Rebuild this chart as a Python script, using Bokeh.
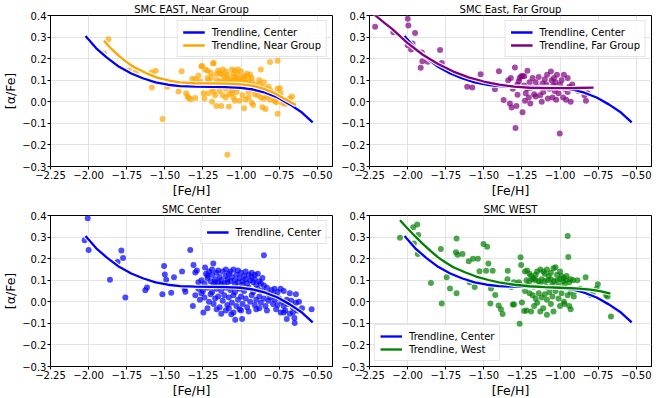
from bokeh.plotting import figure
from bokeh.layouts import gridplot
from bokeh.models import (FixedTicker, CustomJSTickFormatter, Legend, LegendItem,
                          Range1d)
from bokeh.embed import file_html
from bokeh.resources import INLINE

# ---------------- data ----------------
x_ticks = [-2.25, -2.0, -1.75, -1.5, -1.25, -1.0, -0.75, -0.5]
x_tick_labels = ["\u22122.25", "\u22122.00", "\u22121.75", "\u22121.50",
                 "\u22121.25", "\u22121.00", "\u22120.75", "\u22120.50"]
y_ticks = [-0.3, -0.2, -0.1, 0.0, 0.1, 0.2, 0.3, 0.4]
y_tick_labels = ["\u22120.3", "\u22120.2", "\u22120.1", "0.0", "0.1", "0.2", "0.3", "0.4"]

titles = ["SMC EAST, Near Group", "SMC East, Far Group", "SMC Center", "SMC WEST"]

# trendlines
center_trend_x = [-2.02, -1.95, -1.88, -1.80, -1.72, -1.64, -1.56, -1.48, -1.40, -1.30,
                  -1.20, -1.10, -1.00, -0.92, -0.84, -0.76, -0.68, -0.60, -0.53]
center_trend_y = [0.305, 0.248, 0.205, 0.162, 0.131, 0.108, 0.090, 0.079, 0.073, 0.070,
                  0.069, 0.068, 0.065, 0.057, 0.042, 0.020, -0.012, -0.050, -0.095]

near_trend_x = [-1.90, -1.85, -1.80, -1.75, -1.70, -1.62, -1.55, -1.47, -1.40, -1.30,
                -1.20, -1.10, -1.00, -0.92, -0.85, -0.78, -0.72, -0.64]
near_trend_y = [0.283, 0.245, 0.212, 0.184, 0.160, 0.132, 0.112, 0.098, 0.090, 0.086,
                0.085, 0.084, 0.081, 0.074, 0.060, 0.040, 0.016, -0.015]

far_trend_x = [-2.22, -2.15, -2.10, -2.00, -1.90, -1.80, -1.70, -1.60, -1.50, -1.40,
               -1.30, -1.20, -1.10, -1.00, -0.90, -0.78]
far_trend_y = [0.405, 0.365, 0.337, 0.272, 0.218, 0.175, 0.140, 0.113, 0.094, 0.080,
               0.070, 0.065, 0.063, 0.063, 0.064, 0.066]

west_trend_x = [-2.05, -2.00, -1.95, -1.90, -1.85, -1.80, -1.75, -1.70, -1.62, -1.55,
                -1.47, -1.40, -1.30, -1.20, -1.10, -1.00, -0.90, -0.80, -0.73, -0.67]
west_trend_y = [0.378, 0.340, 0.303, 0.268, 0.236, 0.206, 0.182, 0.160, 0.136, 0.117,
                0.101, 0.090, 0.079, 0.072, 0.068, 0.065, 0.062, 0.056, 0.048, 0.038]

near_points = [
    (-1.90, 0.225), (-1.87, 0.290), (-1.735, 0.145), (-1.69, 0.138), (-1.587, 0.136),
    (-1.585, 0.066), (-1.56, 0.144), (-1.515, -0.080), (-1.484, 0.070), (-1.41, 0.048),
    (-1.39, 0.141), (-1.36, 0.040), (-1.35, 0.025), (-1.344, 0.018), (-1.32, 0.107),
    (-1.30, 0.105), (-1.28, 0.121), (-1.257, 0.166), (-1.246, 0.040), (-1.236, 0.151),
    (-1.22, 0.144), (-1.215, 0.040), (-1.194, 0.114), (-1.183, 0.177), (-1.172, 0.070),
    (-1.161, 0.129), (-1.161, -0.019), (-1.09, -0.245),
    (-1.15, 0.145), (-1.14, 0.135), (-1.13, 0.128), (-1.12, 0.150), (-1.11, 0.118),
    (-1.10, 0.140), (-1.09, 0.108), (-1.15, 0.085), (-1.13, 0.075), (-1.10, 0.060),
    (-1.08, 0.090), (-1.06, 0.055), (-1.12, 0.030), (-1.10, 0.020), (-1.08, 0.035),
    (-1.06, 0.040), (-1.13, -0.020), (-1.08, -0.022), (-1.06, 0.150), (-1.05, 0.130),
    (-1.04, 0.145), (-1.02, 0.125), (-1.00, 0.140), (-0.99, 0.110), (-0.98, 0.115),
    (-0.96, 0.130), (-0.94, 0.125), (-1.04, 0.075), (-1.02, 0.065), (-1.00, 0.080),
    (-0.98, 0.070), (-0.96, 0.065), (-0.94, 0.060), (-0.92, 0.068), (-0.90, 0.055),
    (-0.89, 0.052), (-1.05, 0.020), (-1.01, 0.005), (-0.99, 0.030), (-0.97, 0.010),
    (-0.95, 0.020), (-0.93, -0.005), (-0.92, -0.015), (-0.98, -0.030), (-0.87, 0.150),
    (-0.81, 0.185), (-0.76, 0.190), (-0.88, 0.080), (-0.86, 0.065), (-0.84, 0.060),
    (-0.82, 0.070), (-0.81, 0.055), (-0.89, 0.030), (-0.87, 0.020), (-0.85, 0.015),
    (-0.83, 0.025), (-0.81, 0.010), (-0.79, 0.030), (-0.86, -0.025), (-0.84, -0.033),
    (-0.76, -0.055), (-0.745, 0.063), (-0.76, 0.060), (-0.74, 0.040), (-0.72, 0.005),
    (-0.73, -0.005), (-0.71, -0.010), (-0.70, 0.000), (-0.666, 0.025), (-0.68, 0.015),
    (-0.66, -0.010), (-0.78, 0.005), (-0.77, -0.002), (-1.27, 0.095), (-1.25, 0.080),
    (-1.22, 0.110), (-1.21, 0.095), (-1.19, 0.060), (-1.18, 0.045), (-1.18, 0.180),
    (-1.26, 0.165), (-1.30, 0.018), (-1.33, 0.012), (-1.07, 0.100), (-1.05, 0.100),
    (-1.03, 0.095), (-1.01, 0.105), (-0.99, 0.095), (-0.97, 0.090), (-1.09, 0.125),
    (-1.03, 0.110), (-0.95, 0.100), (-0.93, 0.090), (-0.91, 0.080), (-1.16, 0.100),
    (-1.14, 0.095), (-1.12, 0.090), (-1.14, 0.050), (-1.17, 0.030), (-1.03, 0.045),
    (-0.95, 0.045), (-0.91, 0.035), (-1.02, 0.150), (-1.11, 0.100), (-1.05, 0.115),
    (-0.97, 0.120), (-1.20, 0.135), (-1.07, 0.070), (-0.93, 0.110), (-0.88, 0.100),
    (-0.85, 0.090), (-0.80, 0.045), (-1.24, 0.015), (-1.19, 0.000), (-1.04, 0.005),
]

far_points = [
    (-2.213, 0.348), (-2.093, 0.322), (-1.999, 0.385), (-1.995, 0.354), (-1.951, 0.319),
    (-1.999, 0.262), (-1.968, 0.270), (-1.977, 0.242), (-1.907, 0.228), (-1.903, 0.188),
    (-1.914, 0.158), (-1.868, 0.186), (-1.787, 0.240), (-1.776, 0.180), (-1.609, 0.070),
    (-1.576, 0.066), (-1.521, 0.128), (-1.427, 0.058), (-1.401, 0.141), (-1.370, 0.008),
    (-1.329, -0.008), (-1.323, 0.110), (-1.318, -0.026), (-1.296, 0.159), (-1.292, -0.122),
    (-1.286, -0.019), (-1.279, 0.033), (-1.265, 0.110), (-1.255, 0.118), (-1.245, 0.120),
    (-1.235, 0.118), (-1.246, -0.048), (-1.214, 0.144), (-1.235, 0.075), (-1.215, 0.060),
    (-1.225, 0.040), (-1.205, 0.020), (-1.195, -0.008), (-1.18, 0.110), (-1.16, 0.090),
    (-1.15, 0.070), (-1.13, 0.030), (-1.12, 0.000), (-1.10, 0.105), (-1.09, 0.080),
    (-1.085, 0.125), (-1.07, 0.060), (-1.06, 0.140), (-1.055, 0.100), (-1.05, 0.020),
    (-1.045, 0.075), (-1.04, 0.110), (-1.035, 0.050), (-1.03, 0.090), (-1.025, 0.010),
    (-1.02, 0.125), (-1.002, -0.147), (-1.01, 0.040), (-1.00, 0.080), (-0.99, 0.100),
    (-0.98, 0.020), (-0.97, 0.060), (-0.96, 0.010), (-0.95, 0.110), (-0.94, 0.070),
    (-0.93, 0.000), (-0.92, 0.080), (-0.88, 0.050), (-0.84, 0.030), (-0.83, 0.005),
    (-0.82, 0.040), (-1.31, 0.060), (-1.28, 0.080), (-1.20, 0.090), (-1.17, 0.035),
    (-1.14, 0.115), (-1.11, 0.045), (-1.27, 0.095), (-1.23, 0.005), (-1.19, 0.065),
    (-1.08, 0.015), (-1.115, 0.085), (-0.975, 0.125), (-1.34, 0.100), (-1.16, 0.025),
    (-0.95, 0.045),
]

center_points = [
    (-2.026, 0.285), (-2.006, 0.387), (-2.000, 0.240), (-1.860, 0.102), (-1.810, 0.184),
    (-1.785, 0.238), (-1.774, 0.203), (-1.759, 0.020), (-1.628, 0.054), (-1.617, 0.066),
    (-1.516, 0.035), (-1.505, 0.166), (-1.500, 0.126), (-1.491, 0.102), (-1.458, 0.042),
    (-1.440, 0.114), (-1.387, 0.140), (-1.365, 0.047), (-1.370, 0.060), (-1.333, 0.240),
    (-1.316, -0.020), (-1.312, 0.170), (-1.300, 0.136), (-1.290, 0.145), (-1.280, 0.091),
    (-1.247, -0.050), (-1.236, 0.159), (-1.219, 0.121), (-1.182, 0.177), (-1.064, -0.058),
    (-1.038, -0.083), (-0.993, -0.080), (-1.010, -0.035), (-1.000, -0.040), (-0.900, -0.035),
    (-0.850, 0.216), (-0.537, -0.035), (-0.648, -0.098), (-0.650, -0.075), (-0.660, -0.050),
    (-0.630, -0.040), (-0.600, -0.030), (-0.620, 0.000), (-0.640, 0.035), (-0.680, 0.040),
    (-0.700, -0.080), (-0.720, -0.050),
    (-1.26, 0.100), (-1.24, 0.085), (-1.22, 0.110), (-1.21, 0.140), (-1.20, 0.095),
    (-1.19, 0.125), (-1.18, 0.080), (-1.17, 0.105), (-1.16, 0.135), (-1.15, 0.090),
    (-1.14, 0.115), (-1.13, 0.100), (-1.12, 0.140), (-1.11, 0.085), (-1.10, 0.120),
    (-1.09, 0.105), (-1.08, 0.130), (-1.07, 0.095), (-1.06, 0.115), (-1.05, 0.150),
    (-1.04, 0.100), (-1.03, 0.125), (-1.02, 0.090), (-1.01, 0.110), (-1.00, 0.135),
    (-0.99, 0.095), (-0.98, 0.120), (-0.97, 0.105), (-0.96, 0.085), (-0.95, 0.125),
    (-0.94, 0.100), (-0.93, 0.115), (-0.92, 0.090), (-0.91, 0.105), (-0.90, 0.080),
    (-0.89, 0.130), (-0.88, 0.095), (-0.87, 0.085), (-0.86, 0.110), (-0.85, 0.075),
    (-1.15, 0.145), (-1.10, 0.150), (-1.07, 0.140), (-1.02, 0.145), (-0.97, 0.140),
    (-0.93, 0.135), (-1.23, 0.130), (-1.19, 0.150), (-1.09, 0.090), (-1.04, 0.080),
    (-0.99, 0.080), (-1.13, 0.080), (-1.17, 0.090), (-0.91, 0.125),
    (-1.28, 0.060), (-1.25, 0.050), (-1.22, 0.065), (-1.19, 0.045), (-1.16, 0.060),
    (-1.13, 0.050), (-1.10, 0.065), (-1.07, 0.055), (-1.04, 0.045), (-1.01, 0.060),
    (-0.98, 0.050), (-0.95, 0.065), (-0.92, 0.045), (-0.89, 0.060), (-0.86, 0.050),
    (-0.83, 0.065), (-0.80, 0.055), (-0.78, 0.060), (-0.76, 0.045), (-0.74, 0.060),
    (-0.72, 0.050), (-0.82, 0.040), (-0.79, 0.035), (-0.77, 0.025),
    (-1.30, 0.030), (-1.27, 0.010), (-1.24, 0.020), (-1.21, 0.000), (-1.20, 0.035),
    (-1.18, -0.010), (-1.17, 0.015), (-1.15, 0.025), (-1.14, -0.025), (-1.12, 0.005),
    (-1.11, 0.030), (-1.09, -0.015), (-1.08, 0.020), (-1.06, -0.005), (-1.05, 0.030),
    (-1.03, -0.020), (-1.02, 0.010), (-1.00, 0.025), (-0.99, -0.010), (-0.97, 0.015),
    (-0.96, -0.025), (-0.94, 0.000), (-0.93, 0.030), (-0.91, -0.015), (-0.90, 0.010),
    (-0.88, 0.025), (-0.87, -0.005), (-0.85, 0.015), (-0.84, -0.020), (-0.82, 0.005),
    (-0.81, 0.020), (-0.79, -0.010), (-0.78, 0.010), (-0.76, -0.015), (-0.75, 0.015),
    (-0.73, 0.000), (-0.72, -0.020), (-0.70, 0.010), (-0.69, -0.010), (-0.67, 0.005),
    (-0.66, -0.025), (-0.64, -0.005), (-0.71, -0.040), (-0.68, -0.055), (-0.74, -0.050),
    (-0.77, -0.035), (-0.83, -0.040), (-0.88, -0.030), (-0.95, -0.045), (-1.05, -0.050),
    (-1.10, -0.040), (-1.16, -0.035), (-1.22, -0.030), (-1.26, 0.040), (-1.13, -0.055),
    (-1.08, -0.030),
]

west_points = [
    (-2.050, 0.297), (-1.963, 0.345), (-1.937, 0.358), (-1.931, 0.310), (-1.959, 0.270),
    (-1.933, 0.222), (-1.847, 0.087), (-1.782, 0.245), (-1.776, -0.008), (-1.744, 0.114),
    (-1.722, 0.062), (-1.683, 0.230), (-1.672, 0.218), (-1.640, 0.222), (-1.679, 0.039),
    (-1.679, 0.293), (-1.599, 0.188), (-1.593, 0.091), (-1.571, 0.200), (-1.560, 0.069),
    (-1.539, 0.200), (-1.528, 0.141), (-1.502, 0.268), (-1.485, 0.144), (-1.478, 0.255),
    (-1.470, 0.178), (-1.457, -0.008), (-1.442, 0.144), (-1.453, 0.062), (-1.425, 0.032),
    (-1.403, -0.017), (-1.388, -0.035), (-1.377, -0.057), (-1.343, 0.144), (-1.319, 0.069),
    (-1.302, -0.013), (-1.270, 0.091), (-1.265, -0.102), (-1.259, 0.207), (-1.255, 0.170),
    (-1.235, -0.043), (-0.950, 0.305), (-0.946, 0.208), (-0.666, -0.068),
    (-1.345, 0.105), (-1.302, 0.090), (-1.259, 0.075), (-1.230, 0.140), (-1.216, 0.145),
    (-1.200, 0.130), (-1.190, 0.120), (-1.172, 0.110), (-1.160, 0.125), (-1.150, 0.140),
    (-1.129, 0.150), (-1.110, 0.140), (-1.100, 0.130), (-1.086, 0.150), (-1.075, 0.120),
    (-1.060, 0.135), (-1.043, 0.155), (-1.030, 0.160), (-1.020, 0.125), (-1.000, 0.140),
    (-0.990, 0.120), (-0.975, 0.110), (-0.957, 0.120), (-0.930, 0.105), (-0.914, 0.100),
    (-1.220, 0.100), (-1.200, 0.095), (-1.180, 0.105), (-1.160, 0.100), (-1.140, 0.095),
    (-1.120, 0.105), (-1.100, 0.095), (-1.080, 0.100), (-1.060, 0.105), (-1.040, 0.095),
    (-1.020, 0.100), (-1.000, 0.105), (-0.980, 0.095), (-0.960, 0.100), (-0.940, 0.090),
    (-1.280, 0.080), (-1.216, 0.075), (-1.172, 0.070), (-1.129, 0.080), (-1.090, 0.070),
    (-1.050, 0.080), (-1.010, 0.075), (-0.970, 0.080),
    (-1.230, 0.050), (-1.200, 0.040), (-1.180, 0.030), (-1.160, 0.015), (-1.140, 0.040),
    (-1.120, 0.020), (-1.100, 0.035), (-1.086, 0.010), (-1.070, 0.045), (-1.050, 0.025),
    (-1.030, 0.050), (-1.010, 0.015), (-0.990, 0.040), (-0.975, 0.000), (-0.950, 0.030),
    (-0.930, 0.045), (-0.910, 0.025),
    (-1.310, -0.013), (-1.250, -0.003), (-1.220, -0.040), (-1.190, -0.045), (-1.170, -0.020),
    (-1.150, -0.005), (-1.130, -0.045), (-1.110, -0.030), (-1.086, -0.060), (-1.060, -0.010),
    (-1.043, -0.045), (-1.000, -0.020), (-0.970, -0.010), (-0.940, -0.020), (-0.930, -0.035),
    (-0.886, 0.100), (-0.832, 0.114), (-0.752, 0.081), (-0.800, 0.032), (-0.785, 0.032),
    (-0.698, 0.032), (-0.688, 0.024), (-0.830, 0.055), (-0.870, 0.060), (-0.900, 0.050),
    (-0.760, 0.060),
]

# ---------------- styling helpers ----------------
FONT = "DejaVu Sans"
BLUE = "#0000ff"
ORANGE = "#ffa500"
PURPLE = "#800080"
GREEN = "#008000"

LOOKUP = """
    const i = tvals.findIndex(t => Math.abs(t - tick) < 1e-9);
    return i >= 0 ? tlabels[i] : '';
"""
x_fmt = CustomJSTickFormatter(args=dict(tvals=x_ticks, tlabels=x_tick_labels), code=LOOKUP)
y_fmt = CustomJSTickFormatter(args=dict(tvals=y_ticks, tlabels=y_tick_labels), code=LOOKUP)


def make_panel(title, left, fh):
    p = figure(frame_width=282, frame_height=fh, output_backend="svg",
               toolbar_location=None,
               x_range=Range1d(-2.25, -0.4), y_range=Range1d(-0.3, 0.4),
               min_border_left=44 if left else 33, min_border_right=4 if left else 10,
               min_border_top=0, min_border_bottom=0)
    p.title.text = title
    p.title.align = "center"
    p.title.text_font = FONT
    p.title.text_font_size = "10px"
    p.title.text_font_style = "normal"
    p.title.text_color = "black"
    p.title.standoff = 2
    p.outline_line_color = "black"
    p.outline_line_width = 1
    for ax in (p.xaxis[0], p.yaxis[0]):
        ax.axis_line_color = "black"
        ax.major_tick_line_color = "black"
        ax.major_tick_out = 3
        ax.major_tick_in = 0
        ax.minor_tick_line_color = None
        ax.major_label_text_font = FONT
        ax.major_label_text_font_size = "10px"
        ax.major_label_text_color = "black"
        ax.major_label_standoff = 1
        ax.axis_label_text_font = FONT
        ax.axis_label_text_font_size = "12.5px"
        ax.axis_label_text_font_style = "normal"
        ax.axis_label_text_color = "black"
        ax.axis_label_standoff = 1
    p.xaxis.ticker = FixedTicker(ticks=x_ticks)
    p.yaxis.ticker = FixedTicker(ticks=y_ticks)
    p.xaxis.formatter = x_fmt
    p.yaxis.formatter = y_fmt
    p.xaxis.axis_label = "[Fe/H]"
    if left:
        p.yaxis.axis_label = "[\u03b1/Fe]"
    p.grid.grid_line_color = "#e3e3e3"
    p.grid.grid_line_width = 1
    return p


def add_points(p, pts, color):
    xs = [a for a, b in pts]
    ys = [b for a, b in pts]
    p.scatter(xs, ys, marker="circle", size=6, fill_color=color, fill_alpha=0.7,
              line_color=None)


def add_trend(p, xs, ys, color):
    p.line(xs, ys, line_color="white", line_width=4.5, line_alpha=0.9)
    return p.line(xs, ys, line_color=color, line_width=2.3)


def add_legend(p, items, location):
    lg = Legend(items=[LegendItem(label=l, renderers=[r]) for l, r in items],
                location=location)
    lg.label_text_font = FONT
    lg.label_text_font_size = "10px"
    lg.label_text_color = "black"
    lg.glyph_width = 22
    lg.glyph_height = 12
    lg.label_height = 12
    lg.label_standoff = 7
    lg.spacing = 1
    lg.padding = 5
    lg.margin = 5
    lg.border_line_color = "#cccccc"
    lg.border_line_width = 1
    lg.background_fill_alpha = 0.8
    p.add_layout(lg)


FH = 151

p1 = make_panel(titles[0], True, FH)
add_points(p1, near_points, ORANGE)
r_c1 = add_trend(p1, center_trend_x, center_trend_y, BLUE)
r_n = add_trend(p1, near_trend_x, near_trend_y, ORANGE)
add_legend(p1, [("Trendline, Center", r_c1), ("Trendline, Near Group", r_n)], "top_right")

p2 = make_panel(titles[1], False, FH)
add_points(p2, far_points, PURPLE)
r_c2 = add_trend(p2, center_trend_x, center_trend_y, BLUE)
r_f = add_trend(p2, far_trend_x, far_trend_y, PURPLE)
add_legend(p2, [("Trendline, Center", r_c2), ("Trendline, Far Group", r_f)], "top_right")

p3 = make_panel(titles[2], True, FH)
add_points(p3, center_points, BLUE)
r_c3 = add_trend(p3, center_trend_x, center_trend_y, BLUE)
add_legend(p3, [("Trendline, Center", r_c3)], "top_right")

p4 = make_panel(titles[3], False, FH)
add_points(p4, west_points, GREEN)
r_c4 = add_trend(p4, center_trend_x, center_trend_y, BLUE)
r_w = add_trend(p4, west_trend_x, west_trend_y, GREEN)
add_legend(p4, [("Trendline, Center", r_c4), ("Trendline, West", r_w)], "bottom_left")

grid = gridplot([[p1, p2], [p3, p4]], toolbar_location=None)

open("out.html", "w").write(file_html(grid, INLINE))
